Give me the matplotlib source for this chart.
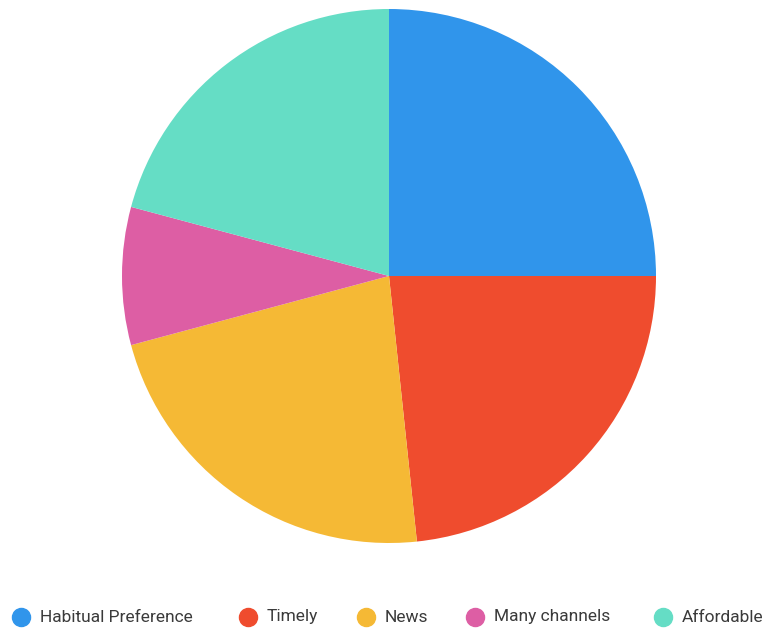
import matplotlib.pyplot as plt
from matplotlib.lines import Line2D

labels = ['Habitual Preference', 'Timely', 'News', 'Many channels', 'Affordable']
counts = [30, 28, 27, 10, 25]
colors = ['#3095EB', '#EF4C2E', '#F5B935', '#DD5EA4', '#65DDC5']

W, H = 765, 630
fig = plt.figure(figsize=(W / 100, H / 100), dpi=100)

# pie area in pixels: centre (389, 276), radius 267
cx, cy, r = 389, 276, 267
ax = fig.add_axes([(cx - r) / W, (H - cy - r) / H, 2 * r / W, 2 * r / H])
ax.pie(counts, colors=colors, startangle=90, counterclock=False,
       wedgeprops=dict(linewidth=0))
ax.set_xlim(-1, 1)
ax.set_ylim(-1, 1)
ax.set_aspect('equal')
ax.axis('off')

# legend row along the bottom
marker_x = [21, 248, 366, 475, 663]
ly = 1 - 617 / H
for x, lab, col in zip(marker_x, labels, colors):
    fig.add_artist(Line2D([x / W], [ly], marker='o', markersize=13,
                          color=col, linestyle='none', transform=fig.transFigure))
    fig.text((x + 19) / W, ly, lab, fontsize=12.5, family='Roboto',
             color='#3a3a3a', va='center', ha='left')

fig.savefig('out.png', dpi=100)
